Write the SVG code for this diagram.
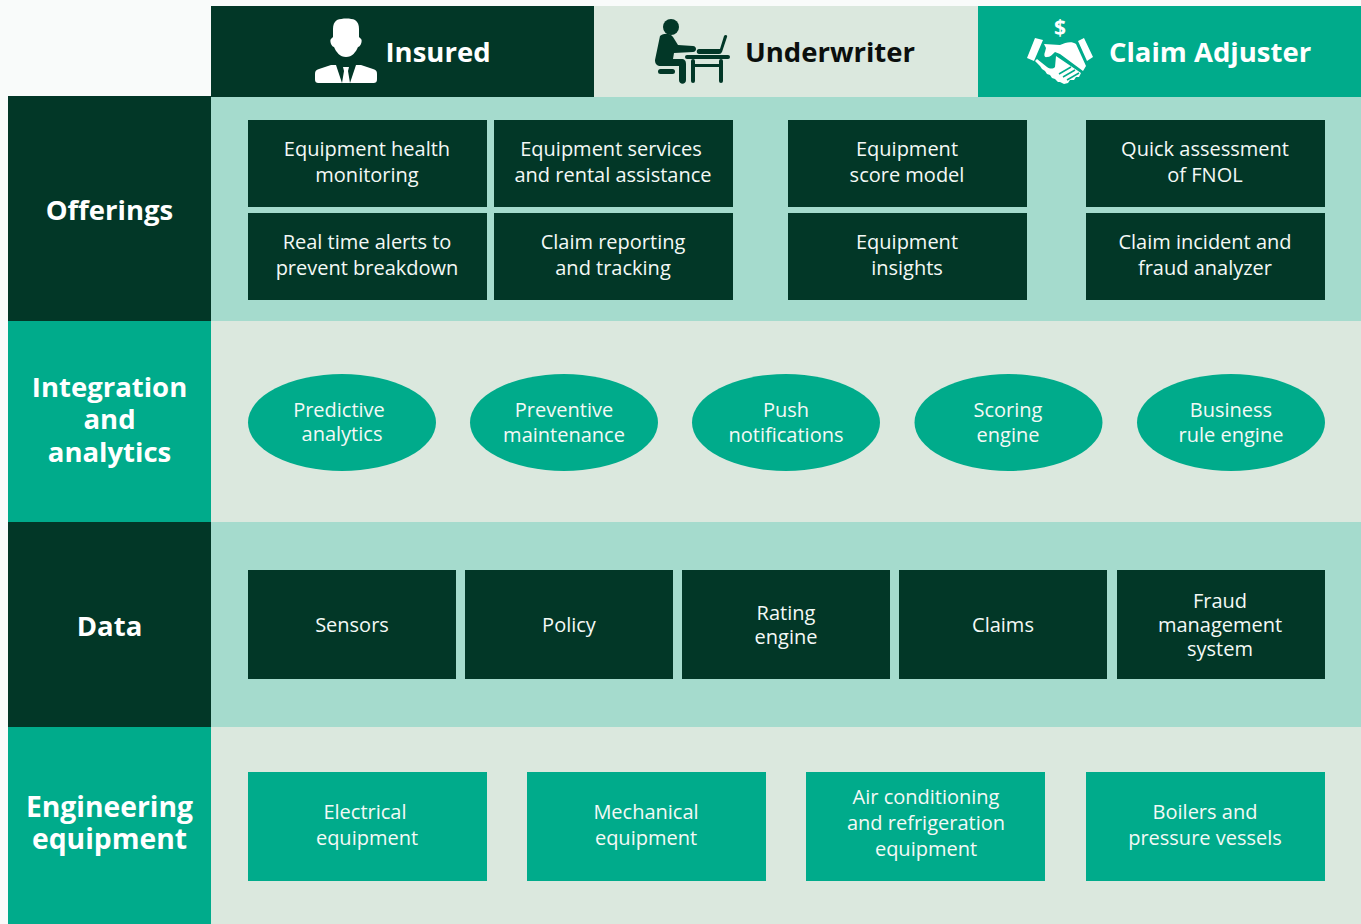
<svg xmlns="http://www.w3.org/2000/svg" width="1361" height="924" viewBox="0 0 1361 924">
<style>
text{font-family:"Open Sans","Noto Sans","Liberation Sans",sans-serif;text-anchor:middle}
.b{font-size:20px;fill:#f4f9f6}
.h{font-size:27.500px;font-weight:700;fill:#fff}
.dk{fill:#023727}.tl{fill:#00ab8b}.lt{fill:#a5dbcd}.pl{fill:#dbe8de}
</style>
<rect width="1361" height="924" fill="#f9fbfa"/>
<g id="bands">
<rect class="lt" x="211" y="97" width="1150" height="224"/>
<rect class="pl" x="211" y="321" width="1150" height="201"/>
<rect class="lt" x="211" y="522" width="1150" height="205"/>
<rect class="pl" x="211" y="727" width="1150" height="197"/>
</g>
<g id="head-insured">
<rect class="dk" x="211" y="6" width="383" height="91"/>
<path fill="#fff" d="M337 20c5-2 14-2 18 0 3 2 4 5 4 9v8l1 1c2 1 2 3 1 6-1 2-2 3-3 3-2 5-6 10-12 10s-10-5-12-10c-1 0-2-1-3-3-1-3-1-5 1-6l1-1v-8c0-4 1-7 4-9z"/>
<path fill="#fff" d="M336 65l6 18h-23c-3 0-4-1-4-4v-5c0-3 1-4 4-5l12-4zM356 65l-6 18h23c3 0 4-1 4-4v-5c0-3-1-4-4-5l-12-4zM343 67h6l-1 4 2 12h-8l2-12z"/>
<text class="h" x="438" y="62">Insured</text>
</g>
<g id="head-underwriter">
<rect class="pl" x="594" y="6" width="384" height="91"/>
<g fill="#023727">
<circle cx="671" cy="27" r="8"/>
<path d="M660 36c4-3 10-3 13 1l5 8 15 1c4 0 4 6 0 6l-19 1-1 6h8c4 0 5 2 5 5v16c0 5-7 5-7 0v-14h-18c-4 0-6-2-6-6z"/>
<rect x="658" y="69" width="17" height="5" rx="2.500"/>
<rect x="685" y="55" width="45" height="4" rx="2"/>
<rect x="691" y="59" width="4" height="24" rx="2"/>
<rect x="719" y="59" width="4" height="24" rx="2"/>
<rect x="694" y="64" width="26" height="3"/>
<path d="M699 49h21l4-13c1-2 4-1 3 1l-5 15c-1 1-1 2-3 2h-20c-3 0-3-5 0-5z"/>
</g>
<text class="h" x="830" y="62" style="fill:#0b0f0d">Underwriter</text>
</g>
<g id="head-adjuster">
<rect class="tl" x="978" y="6" width="383" height="91"/>
<g fill="#fff">
<path d="M1035 38l8 2-9 21-7-3zM1084 38l9 19-6 4-9-20z"/>
<path d="M1044 44l16 1c6-3 12-4 16-1l10 22-3 5-23-17-5-2c-3 3-5 5-8 5-3 1-3-3-2-5l1-4z"/>
<path d="M1056 56l25 17-2 4-3 0-2 3-4 0-2 3-4 1-2-1-2-1-2 0-3-3-3-1-2-3-3-1-2-3-3-2-2-3-3-3-2-2 2-2 10 8c3 2 6 2 8 0z"/>
</g>
<g stroke="#00ab8b" stroke-width="1.500" fill="none">
<path d="M1059 74l12-7M1063 77l12-7M1067 80l12-7"/>
</g>
<text x="1060" y="35" style="font-size:21px;font-weight:700;fill:#fff">$</text>
<text class="h" x="1210" y="62">Claim Adjuster</text>
</g>
<g id="row-offerings"><rect class="dk" x="8" y="96" width="203" height="225"/><text class="h" x="109.500" y="220">Offerings</text></g>
<g id="row-integration"><rect class="tl" x="8" y="321" width="203" height="201"/><text class="h"><tspan x="109.500" y="397">Integration</tspan><tspan x="109.500" y="429">and</tspan><tspan x="109.500" y="462">analytics</tspan></text></g>
<g id="row-data"><rect class="dk" x="8" y="522" width="203" height="205"/><text class="h" x="109.500" y="636">Data</text></g>
<g id="row-equipment"><rect class="tl" x="8" y="727" width="203" height="197"/><text class="h" style="font-size:28.300px"><tspan x="109.500" y="817">Engineering</tspan><tspan x="109.500" y="849">equipment</tspan></text></g>
<g id="o1"><rect class="dk" x="248" y="120" width="239" height="87"/><text class="b"><tspan x="367" y="156">Equipment health</tspan><tspan x="367" y="182">monitoring</tspan></text></g>
<g id="o2"><rect class="dk" x="494" y="120" width="239" height="87"/><text class="b"><tspan x="611" y="156">Equipment services</tspan><tspan x="613" y="182">and rental assistance</tspan></text></g>
<g id="o3"><rect class="dk" x="788" y="120" width="239" height="87"/><text class="b"><tspan x="907" y="156">Equipment</tspan><tspan x="907" y="182">score model</tspan></text></g>
<g id="o4"><rect class="dk" x="1086" y="120" width="239" height="87"/><text class="b"><tspan x="1205" y="156">Quick assessment</tspan><tspan x="1205" y="182">of FNOL</tspan></text></g>
<g id="o5"><rect class="dk" x="248" y="213" width="239" height="87"/><text class="b"><tspan x="367" y="249">Real time alerts to</tspan><tspan x="367" y="275">prevent breakdown</tspan></text></g>
<g id="o6"><rect class="dk" x="494" y="213" width="239" height="87"/><text class="b"><tspan x="613" y="249">Claim reporting</tspan><tspan x="613" y="275">and tracking</tspan></text></g>
<g id="o7"><rect class="dk" x="788" y="213" width="239" height="87"/><text class="b"><tspan x="907" y="249">Equipment</tspan><tspan x="907" y="275">insights</tspan></text></g>
<g id="o8"><rect class="dk" x="1086" y="213" width="239" height="87"/><text class="b"><tspan x="1205" y="249">Claim incident and</tspan><tspan x="1205" y="275">fraud analyzer</tspan></text></g>
<g id="i1"><ellipse class="tl" cx="342" cy="422.500" rx="94" ry="48.500"/><text class="b"><tspan x="339" y="417">Predictive</tspan><tspan x="342" y="441">analytics</tspan></text></g>
<g id="i2"><ellipse class="tl" cx="564" cy="422.500" rx="94" ry="48.500"/><text class="b"><tspan x="564" y="417">Preventive</tspan><tspan x="564" y="442">maintenance</tspan></text></g>
<g id="i3"><ellipse class="tl" cx="786" cy="422.500" rx="94" ry="48.500"/><text class="b"><tspan x="786" y="417">Push</tspan><tspan x="786" y="442">notifications</tspan></text></g>
<g id="i4"><ellipse class="tl" cx="1008.500" cy="422.500" rx="94" ry="48.500"/><text class="b"><tspan x="1008" y="417">Scoring</tspan><tspan x="1008" y="442">engine</tspan></text></g>
<g id="i5"><ellipse class="tl" cx="1231" cy="422.500" rx="94" ry="48.500"/><text class="b"><tspan x="1231" y="417">Business</tspan><tspan x="1231" y="442">rule engine</tspan></text></g>
<g id="d1"><rect class="dk" x="248" y="570" width="208" height="109"/><text class="b" x="352" y="632">Sensors</text></g>
<g id="d2"><rect class="dk" x="465" y="570" width="208" height="109"/><text class="b" x="569" y="632">Policy</text></g>
<g id="d3"><rect class="dk" x="682" y="570" width="208" height="109"/><text class="b"><tspan x="786" y="620">Rating</tspan><tspan x="786" y="644">engine</tspan></text></g>
<g id="d4"><rect class="dk" x="899" y="570" width="208" height="109"/><text class="b" x="1003" y="632">Claims</text></g>
<g id="d5"><rect class="dk" x="1117" y="570" width="208" height="109"/><text class="b"><tspan x="1220" y="608">Fraud</tspan><tspan x="1220" y="632">management</tspan><tspan x="1220" y="656">system</tspan></text></g>
<g id="e1"><rect class="tl" x="248" y="772" width="239" height="109"/><text class="b"><tspan x="365" y="819">Electrical</tspan><tspan x="367" y="845">equipment</tspan></text></g>
<g id="e2"><rect class="tl" x="527" y="772" width="239" height="109"/><text class="b"><tspan x="646" y="819">Mechanical</tspan><tspan x="646" y="845">equipment</tspan></text></g>
<g id="e3"><rect class="tl" x="806" y="772" width="239" height="109"/><text class="b"><tspan x="926" y="804">Air conditioning</tspan><tspan x="926" y="830">and refrigeration</tspan><tspan x="926" y="856">equipment</tspan></text></g>
<g id="e4"><rect class="tl" x="1086" y="772" width="239" height="109"/><text class="b"><tspan x="1205" y="819">Boilers and</tspan><tspan x="1205" y="845">pressure vessels</tspan></text></g>
</svg>
